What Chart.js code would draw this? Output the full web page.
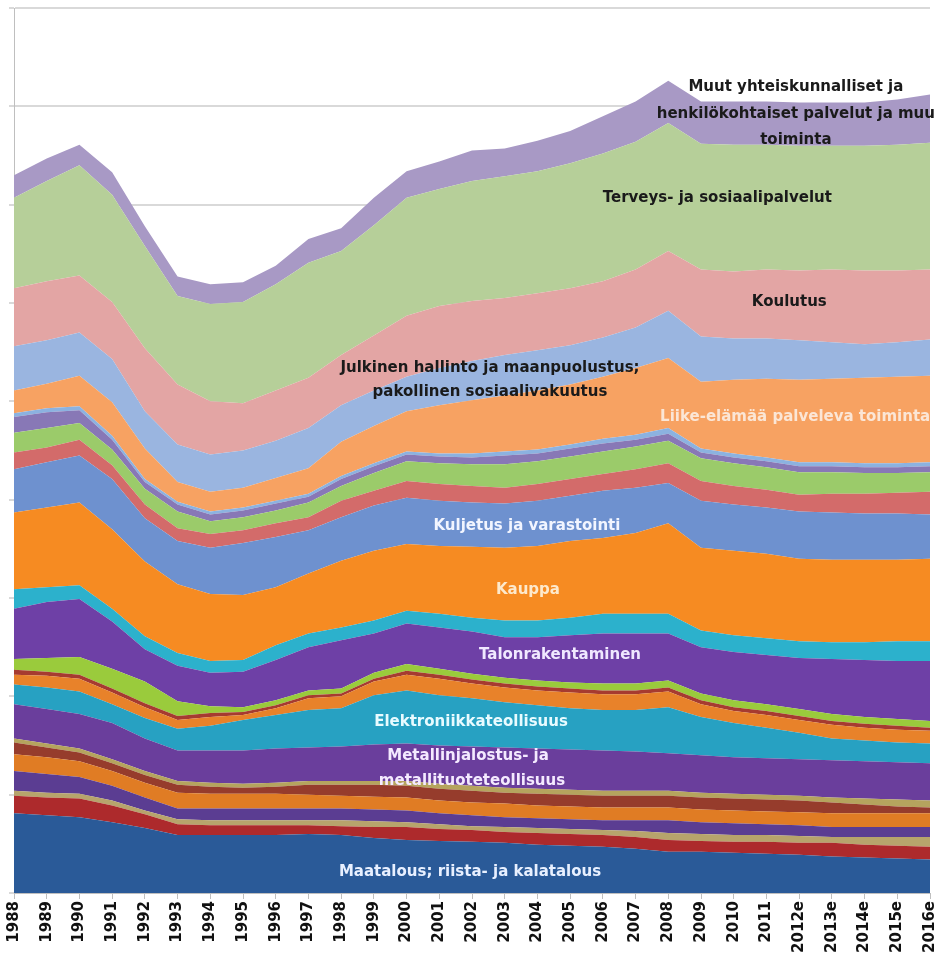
<!DOCTYPE html>
<html>
<head>
<meta charset="utf-8">
<script src="https://cdn.jsdelivr.net/npm/chart.js@4.4.1/dist/chart.umd.min.js"></script>
<style>
html, body { margin: 0; padding: 0; background: #fff; }
canvas { display: block; }
</style>
</head>
<body>
<canvas id="area-chart" width="942" height="966"></canvas>
<script>
const years = ['1988','1989','1990','1991','1992','1993','1994','1995','1996','1997','1998','1999',
    '2000','2001','2002','2003','2004','2005','2006','2007','2008','2009','2010','2011',
    '2012e','2013e','2014e','2015e','2016e'];

// layers from the bottom of the stack upwards
const agriculture   = [81,79,77,72,66,59,59,59,59,60,59,56,54,53,52,51,49,48,47,45,42,42,41,40,39,37,36,35,34];
const layerRed      = [18,18,19,17,14,11,10,10,10,9,9,11,13,12,12,11,12,12,12,12,12,11,11,12,12,14,13,13,13];
const layerTan1     = [5,5,5,5,4,5,5,5,5,5,6,6,5,5,4,5,5,5,5,6,7,7,7,7,7,6,8,9,10];
const layerPurple1  = [20,19,17,15,13,11,12,12,12,12,12,12,12,11,11,10,10,10,10,11,13,12,12,11,11,10,10,10,10];
const layerOrange1  = [17,17,16,15,15,16,15,15,15,14,13,13,13,13,13,14,13,13,13,13,13,13,13,13,13,14,14,14,14];
const layerBrown    = [12,10,9,8,8,8,7,6,7,10,11,12,12,12,12,11,12,12,12,12,12,12,12,12,12,11,9,7,6];
const layerTan2     = [4,4,4,4,4,4,4,4,4,4,4,4,5,5,5,5,5,5,5,5,5,5,5,5,5,5,6,7,7];
const metals        = [35,35,35,37,33,31,33,34,35,34,35,37,38,39,40,41,41,41,41,40,38,38,37,37,37,38,38,38,38];
const electronics   = [20,22,23,19,21,22,25,31,34,38,39,50,54,51,49,46,44,42,41,42,47,39,35,31,27,22,21,20,20];
const layerOrange2  = [10,12,13,12,11,9,9,5,7,12,12,14,16,17,15,15,15,16,16,16,16,13,12,13,13,14,13,13,13];
const layerRed2     = [5,4,4,4,4,4,4,3,3,3,3,3,4,4,4,4,4,4,4,4,4,4,4,4,4,4,4,4,3];
const layerLime     = [11,14,18,20,22,15,7,5,5,5,5,6,7,6,6,6,6,6,7,7,7,7,7,7,7,7,7,7,7];
const building      = [51,57,59,48,33,36,34,36,41,44,49,40,41,42,43,41,44,48,51,51,48,47,49,50,52,56,58,59,61];
const layerTeal     = [20,15,14,13,13,13,12,12,15,14,13,13,13,14,14,17,17,18,20,20,20,17,17,17,17,17,18,20,20];
const trade         = [78,81,84,81,76,70,68,66,59,61,68,71,68,69,72,74,76,78,77,82,92,84,86,86,84,84,84,83,84];
const transport     = [44,46,48,51,44,44,47,53,51,44,44,46,47,46,45,45,46,46,48,46,41,48,47,47,48,48,47,47,45];
const layerSalmon   = [17,15,16,14,14,13,14,13,14,13,17,15,17,17,17,16,17,17,17,19,20,20,19,18,17,19,20,21,23];
const layerGreen    = [20,20,17,16,16,17,13,13,13,15,15,18,20,21,22,24,23,23,23,23,23,23,23,23,23,22,21,20,20];
const layerLavender = [16,16,13,10,7,7,7,7,7,6,7,7,7,7,7,9,8,8,8,7,7,6,6,6,6,6,6,6,6];
const layerSky      = [4,4,4,4,3,3,3,3,3,3,3,3,3,3,4,4,4,4,5,5,6,4,4,4,4,4,4,4,4];
const business      = [23,25,31,34,31,20,20,20,23,26,35,38,41,49,54,57,60,61,63,68,71,68,75,80,84,85,87,88,88];
const publicAdmin   = [45,44,44,44,38,38,38,38,38,41,37,36,35,38,40,41,41,40,40,41,48,46,42,41,40,37,34,35,37];
const education     = [59,60,58,58,64,61,54,48,51,51,51,56,62,63,61,58,58,58,57,59,61,68,68,70,71,74,75,73,71];
const health        = [92,102,112,109,104,90,99,103,108,117,106,112,120,119,122,124,124,127,130,130,130,128,129,127,127,126,127,128,129];
const otherServices = [23,23,21,23,20,20,20,20,19,24,23,28,27,28,31,28,31,33,38,41,43,43,44,44,44,44,44,46,49];

const layers = [
    ['Maatalous; riista- ja kalatalous', agriculture, '#2a5a98'],
    ['', layerRed, '#ad2a2c'],
    ['', layerTan1, '#b7a46c'],
    ['', layerPurple1, '#5b3d92'],
    ['', layerOrange1, '#e07c24'],
    ['', layerBrown, '#963c2c'],
    ['', layerTan2, '#b5a45e'],
    ['Metallinjalostus- ja metallituoteteollisuus', metals, '#6a3e9c'],
    ['Elektroniikkateollisuus', electronics, '#27a1c2'],
    ['', layerOrange2, '#e8822a'],
    ['', layerRed2, '#a63b30'],
    ['', layerLime, '#9acb3c'],
    ['Talonrakentaminen', building, '#6e40a6'],
    ['', layerTeal, '#2cb1cc'],
    ['Kauppa', trade, '#f68b22'],
    ['Kuljetus ja varastointi', transport, '#6e91cf'],
    ['', layerSalmon, '#d36b6a'],
    ['', layerGreen, '#9bcb6a'],
    ['', layerLavender, '#8878b6'],
    ['', layerSky, '#8cb2e0'],
    ['Liike-elämää palveleva toiminta', business, '#f7a262'],
    ['Julkinen hallinto ja maanpuolustus; pakollinen sosiaalivakuutus', publicAdmin, '#9ab5e0'],
    ['Koulutus', education, '#e3a5a4'],
    ['Terveys- ja sosiaalipalvelut', health, '#b6cf99'],
    ['Muut yhteiskunnalliset ja henkilökohtaiset palvelut ja muu toiminta', otherServices, '#a899c5']
];

// text written on the areas: category index, value, text
const areaTexts = [
    [23.9, 820, 'Muut yhteiskunnalliset ja', '#1a1a1a', 'center'],
    [23.9, 792, 'henkilökohtaiset palvelut ja muu', '#1a1a1a', 'center'],
    [23.9, 766, 'toiminta', '#1a1a1a', 'center'],
    [21.5, 707, 'Terveys- ja sosiaalipalvelut', '#1a1a1a', 'center'],
    [23.7, 601, 'Koulutus', '#1a1a1a', 'center'],
    [14.55, 534, 'Julkinen hallinto ja maanpuolustus;', '#1a1a1a', 'center'],
    [14.55, 509, 'pakollinen sosiaalivakuutus', '#1a1a1a', 'center'],
    [19.75, 484, 'Liike-elämää palveleva toiminta', '#fbe6d6', 'left'],
    [15.68, 373, 'Kuljetus ja varastointi', '#f2f5ff', 'center'],
    [15.71, 308, 'Kauppa', '#fde9cc', 'center'],
    [16.69, 242, 'Talonrakentaminen', '#f0e8ff', 'center'],
    [13.97, 174, 'Elektroniikkateollisuus', '#e8fbff', 'center'],
    [13.88, 139, 'Metallinjalostus- ja', '#f4eaff', 'center'],
    [14.0, 114, 'metallituoteteollisuus', '#f4eaff', 'center'],
    [13.94, 21, 'Maatalous; riista- ja kalatalous', '#e8f0ff', 'center']
];

const areaTextPlugin = {
    id: 'areaTexts',
    afterDatasetsDraw(chart) {
        const ctx = chart.ctx;
        const xs = chart.scales.x;
        const ys = chart.scales.y;
        ctx.save();
        ctx.font = 'bold 15px "DejaVu Sans"';
        ctx.textBaseline = 'middle';
        areaTexts.forEach(function (t) {
            ctx.fillStyle = t[3];
            ctx.textAlign = t[4];
            ctx.fillText(t[2], xs.getPixelForValue(t[0]), ys.getPixelForValue(t[1]));
        });
        ctx.restore();
    }
};

const datasets = layers.map(function (l, i) {
    return {
        label: l[0],
        data: l[1],
        backgroundColor: l[2],
        borderWidth: 0,
        pointRadius: 0,
        tension: 0,
        fill: i === 0 ? 'origin' : '-1'
    };
});

new Chart(document.getElementById('area-chart').getContext('2d'), {
    type: 'line',
    data: { labels: years, datasets: datasets },
    options: {
        responsive: false,
        animation: false,
        devicePixelRatio: 1,
        layout: { padding: { top: 8, right: 12, left: 0, bottom: 0 } },
        plugins: {
            legend: { display: false },
            tooltip: { enabled: false }
        },
        scales: {
            x: {
                offset: false,
                grid: { drawOnChartArea: false, tickLength: 6, color: '#bfbfbf' },
                border: { color: '#bfbfbf' },
                ticks: {
                    autoSkip: false,
                    minRotation: 90,
                    maxRotation: 90,
                    padding: 2,
                    color: '#111',
                    font: { family: 'DejaVu Sans', size: 15, weight: 'bold' }
                },
                afterFit: function (scale) {
                    scale.height = 73;
                    scale.paddingLeft = 0;
                    scale.paddingRight = 0;
                }
            },
            y: {
                stacked: true,
                min: 0,
                max: 900,
                ticks: { stepSize: 100, display: false },
                grid: { color: '#d9d9d9', lineWidth: 2, tickLength: 5 },
                border: { color: '#bfbfbf', width: 1 },
                afterFit: function (scale) { scale.width = 14; }
            }
        }
    },
    plugins: [areaTextPlugin]
});
</script>
</body>
</html>
